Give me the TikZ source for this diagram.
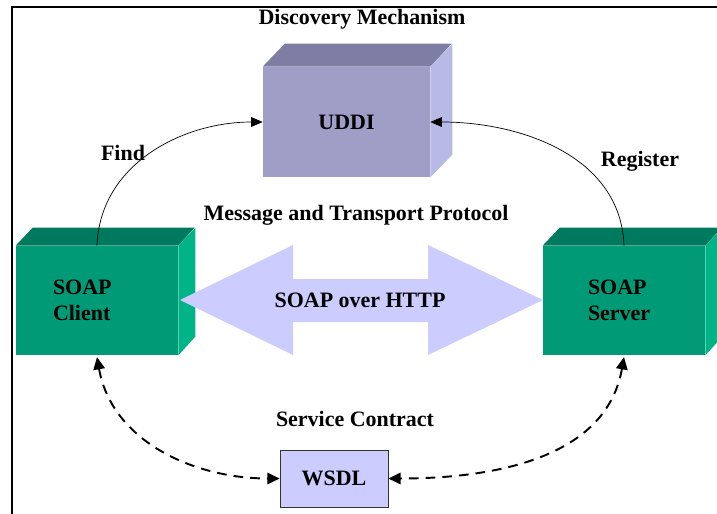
\documentclass[tikz,border=0pt]{standalone}
\usepackage{fontspec}
\setmainfont{Liberation Serif}
\usetikzlibrary{arrows.meta}

\definecolor{uddifront}{HTML}{9E9EC6}
\definecolor{udditop}{HTML}{7E7EA4}
\definecolor{uddiside}{HTML}{B9B9E6}
\definecolor{soapfront}{HTML}{009A77}
\definecolor{soaptop}{HTML}{007A5E}
\definecolor{soapside}{HTML}{00B488}
\definecolor{lilac}{HTML}{CCCCFF}

\begin{document}
\begin{tikzpicture}[x=0.02cm, y=-0.02cm,
  every node/.style={font=\fontsize{12.5}{15}\selectfont\bfseries},
  tip/.style={-{Triangle[length=6.5pt,width=5.5pt]}},
  bothtips/.style={{Triangle[length=7pt,width=6.5pt]}-{Triangle[length=7pt,width=6.5pt]}}]
\useasboundingbox (0,0) rectangle (717,514);
% frame
\draw[line width=1.7pt] (12,514) -- (12,7) -- (717,7);

% boxes
\node[fill=uddifront, minimum width=3.34cm, minimum height=2.2cm] (uddi) at (346.5,122) {UDDI};
\fill[udditop] (uddi.north west) -- ++(22,-23) -- ++(167,0) -- (uddi.north east) -- cycle;
\fill[uddiside] (uddi.north east) -- ++(22,-23) -- ++(0,111) -- (uddi.south east) -- cycle;

\node[fill=soapfront, minimum width=3.24cm, minimum height=2.18cm, inner xsep=0.74cm, text width=1.76cm, align=left] (client) at (97,300.5) {SOAP\\Client};
\fill[soaptop] (client.north west) -- ++(17,-18) -- ++(162,0) -- (client.north east) -- cycle;
\fill[soapside] (client.north east) -- ++(17,-18) -- ++(0,109) -- (client.south east) -- cycle;

\node[fill=soapfront, minimum width=3.24cm, minimum height=2.18cm, inner xsep=0.9cm, text width=1.44cm, align=left] (server) at (624,300.5) {SOAP\\Server};
\fill[soaptop] (server.north west) -- ++(17,-18) -- ++(162,0) -- (server.north east) -- cycle;
\fill[soapside] (server.north east) -- ++(17,-18) -- ++(0,109) -- (server.south east) -- cycle;

\node[draw=black!80, fill=lilac, minimum width=2.16cm, minimum height=1.14cm] (wsdl) at (334,478.5) {WSDL};

% SOAP over HTTP
\fill[lilac] (180,300) -- (293,245) -- (293,279) -- (428,279) -- (428,245) -- (543,300)
  -- (428,355) -- (428,322) -- (293,322) -- (293,355) -- cycle;
\node (http) at (360,300) {SOAP over HTTP};

% labels
\node (discovery) at (362,19) {Discovery Mechanism};
\node (find) at (123,153) {Find};
\node (register) at (640,161) {Register};
\node (transport) at (356,215) {Message and Transport Protocol};
\node (contract) at (355,419) {Service Contract};

% connectors
\draw[tip, thin] (client.north) to[out=88, in=180] (uddi.west);
\draw[tip, thin] (server.north) to[out=92, in=0] (uddi.east);
\draw[bothtips, line width=1.1pt, dash pattern=on 5.5pt off 4pt] ([yshift=-1pt]client.south) to[out=-80, in=180] (wsdl.west);
\draw[bothtips, line width=1.1pt, dash pattern=on 5.5pt off 4pt] ([yshift=-1pt]server.south) to[out=-100, in=0] (wsdl.east);
\end{tikzpicture}
\end{document}
